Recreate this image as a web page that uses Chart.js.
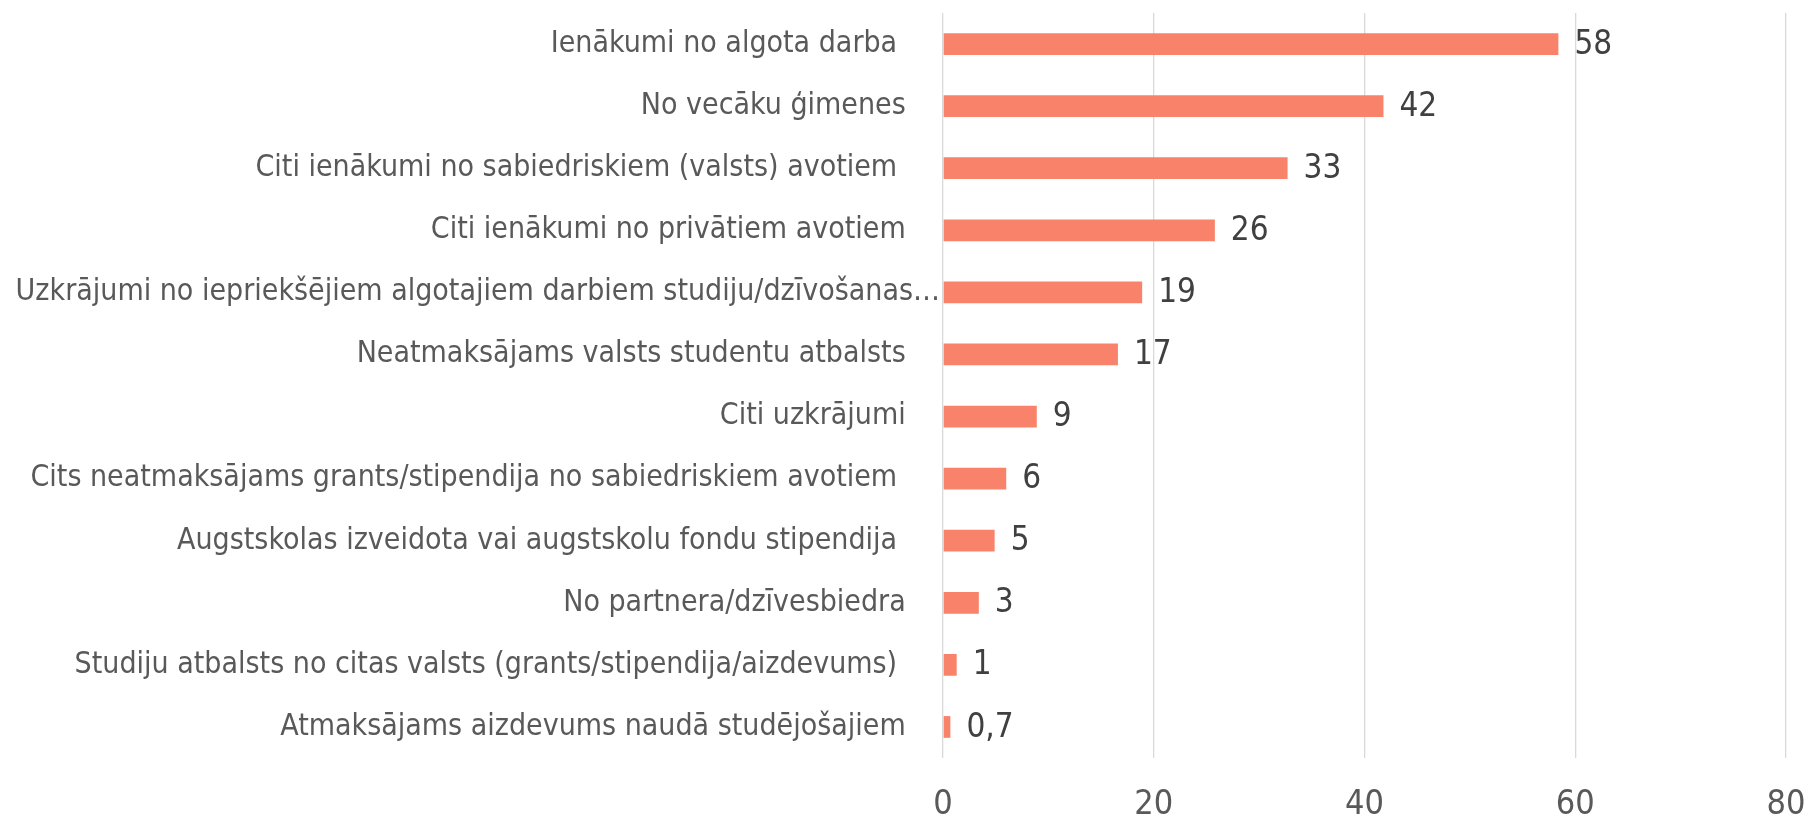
<!DOCTYPE html>
<html>
<head>
<meta charset="utf-8">
<script src="https://cdn.jsdelivr.net/npm/chart.js@4/dist/chart.umd.min.js"></script>
<style>
  html, body { margin: 0; padding: 0; background: #fff; }
  #wrap { width: 1809px; height: 817px; }
</style>
</head>
<body>
<div id="wrap"><canvas id="c"></canvas></div>
<script>
const categories = [
  "Ienākumi no algota darba ",
  "No vecāku ģimenes",
  "Citi ienākumi no sabiedriskiem (valsts) avotiem ",
  "Citi ienākumi no privātiem avotiem",
  "Uzkrājumi no iepriekšējiem algotajiem darbiem studiju/dzīvošanas…",
  "Neatmaksājams valsts studentu atbalsts",
  "Citi uzkrājumi",
  "Cits neatmaksājams grants/stipendija no sabiedriskiem avotiem ",
  "Augstskolas izveidota vai augstskolu fondu stipendija ",
  "No partnera/dzīvesbiedra",
  "Studiju atbalsts no citas valsts (grants/stipendija/aizdevums) ",
  "Atmaksājams aizdevums naudā studējošajiem"
];
const values = [58.4, 41.8, 32.7, 25.8, 18.9, 16.6, 8.9, 6.0, 4.9, 3.4, 1.3, 0.7];
const valueLabels = ["58", "42", "33", "26", "19", "17", "9", "6", "5", "3", "1", "0,7"];
const xTicks = [0, 20, 40, 60, 80];

const FONT = "'Liberation Sans Narrow', 'Arial Narrow', 'DejaVu Sans Condensed', sans-serif";

// value labels at the end of each bar
const barValues = {
  id: 'barValues',
  afterDatasetsDraw(chart) {
    const ctx = chart.ctx;
    const meta = chart.getDatasetMeta(0);
    ctx.save();
    ctx.font = "33px " + FONT;
    ctx.fillStyle = '#404040';
    ctx.textAlign = 'left';
    ctx.textBaseline = 'middle';
    meta.data.forEach((bar, i) => {
      ctx.fillText(valueLabels[i], bar.x + 16, bar.y + 1);
    });
    ctx.restore();
  }
};

new Chart(document.getElementById('c'), {
  type: 'bar',
  data: {
    labels: categories,
    datasets: [{
      data: values,
      backgroundColor: '#F9836A',
      barPercentage: 0.35,
      categoryPercentage: 1
    }]
  },
  options: {
    indexAxis: 'y',
    responsive: true,
    maintainAspectRatio: false,
    animation: false,
    layout: { padding: { top: 13, right: 23, left: 0, bottom: 0 } },
    plugins: { legend: { display: false }, tooltip: { enabled: false } },
    scales: {
      x: {
        min: 0, max: 80,
        afterBuildTicks(scale) { scale.ticks = xTicks.map(v => ({ value: v })); },
        afterFit(scale) {
          scale.height = 59;
          scale.paddingLeft = 0; scale.paddingRight = 0;
        },
        grid: { color: '#D9D9D9', lineWidth: 1.3, drawTicks: false },
        border: { display: false },
        ticks: { color: '#595959', font: { family: FONT, size: 34 }, padding: 27 }
      },
      y: {
        afterFit(scale) {
          scale.width = 943;
          scale.paddingTop = 0; scale.paddingBottom = 0;
        },
        grid: { display: false, drawTicks: false },
        border: { display: false },
        ticks: {
          color: '#595959',
          font: { family: FONT, size: 30 },
          padding: 3,
          autoSkip: false,
          callback(v, i) {
            const s = categories[i];
            return s.endsWith('…') ? s : s + '\u00A0\u00A0\u00A0\u00A0';
          }
        }
      }
    }
  },
  plugins: [barValues]
});
</script>
</body>
</html>
